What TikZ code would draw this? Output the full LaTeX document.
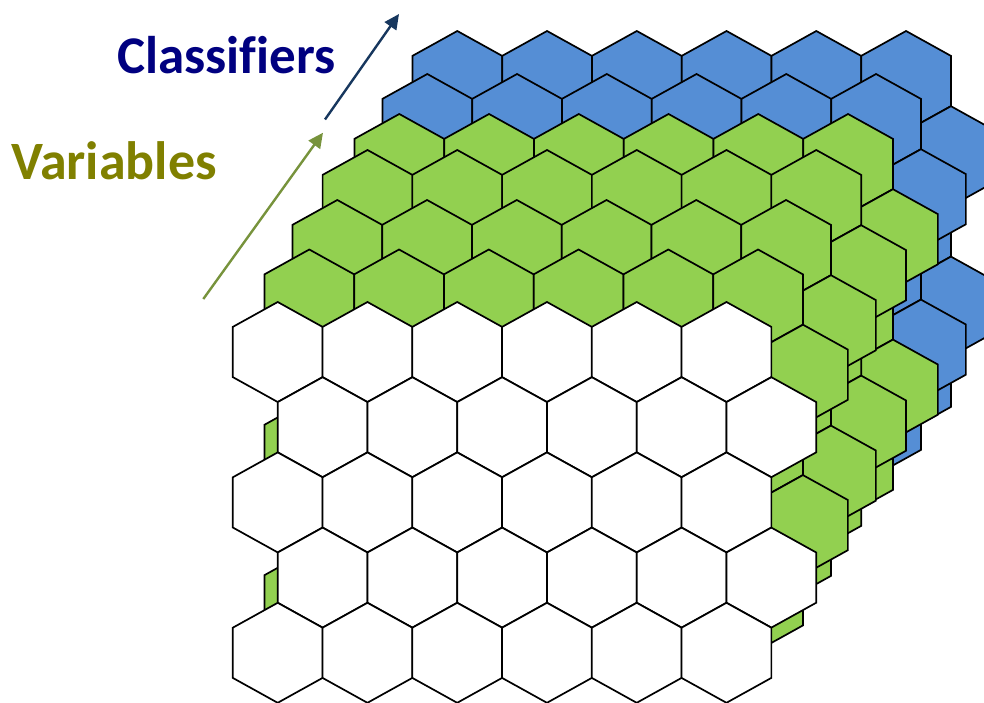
\documentclass[tikz,border=0pt]{standalone}
\usepackage{fontspec}
\setmainfont{Carlito}[Ligatures={CommonOff}]
\usetikzlibrary{arrows.meta}
\definecolor{hexblue}{HTML}{558ED5}
\definecolor{hexgreen}{HTML}{92D050}
\definecolor{arrgreen}{HTML}{77933C}
\definecolor{arrblue}{HTML}{17375E}
\definecolor{txtblue}{HTML}{000080}
\definecolor{txtolive}{HTML}{808000}
\tikzset{
  hexcell/.style={draw=black, line width=1.7pt, line join=miter},
  layerarrow/.style={line width=2.4pt, -{Triangle[length=15pt,width=14pt]}},
  bigword/.style={font=\fontsize{54}{60}\selectfont\bfseries, anchor=base west, inner sep=0pt}
}
\begin{document}
\begin{tikzpicture}[x=1pt,y=-1pt]
\useasboundingbox (0,0) rectangle (984,703);
% layers, back to front: centre of first cell of first row / fill
\foreach \lx/\ly/\fc in {457.3/81/hexblue, 427.3/124/hexblue, 399.3/164/hexgreen, 367.5/200/hexgreen, 337.3/250/hexgreen, 309.3/299.5/hexgreen, 277.7/352/white}{
  \foreach \r in {0,...,4}{
    \foreach \c in {0,...,5}{
      \pgfmathsetmacro\cx{\lx + \c*89.75 + mod(\r,2)*44.9}
      \pgfmathsetmacro\cy{\ly + \r*75.2}
      \draw[hexcell, fill=\fc, shift={(\cx,\cy)}]
        (0,-50) -- (44.9,-25.1) -- (44.9,25.1) -- (0,50) -- (-44.9,25.1) -- (-44.9,-25.1) -- cycle;
    }
  }
}
% arrows
\coordinate (vs) at (203.3,299);
\coordinate (ve) at (323,132.7);
\coordinate (cs) at (325,119.5);
\coordinate (ce) at (399,14);
\draw[layerarrow, draw=arrgreen, fill=arrgreen] (vs) -- (ve);
\draw[layerarrow, draw=arrblue, fill=arrblue] (cs) -- (ce);
% labels
\node[bigword, text=txtblue, font=\fontsize{53}{60}\selectfont\bfseries] (classifiers) at (117,74) {Classifiers};
\node[bigword, text=txtolive] (variables) at (11,180) {Variables};
\end{tikzpicture}
\end{document}
